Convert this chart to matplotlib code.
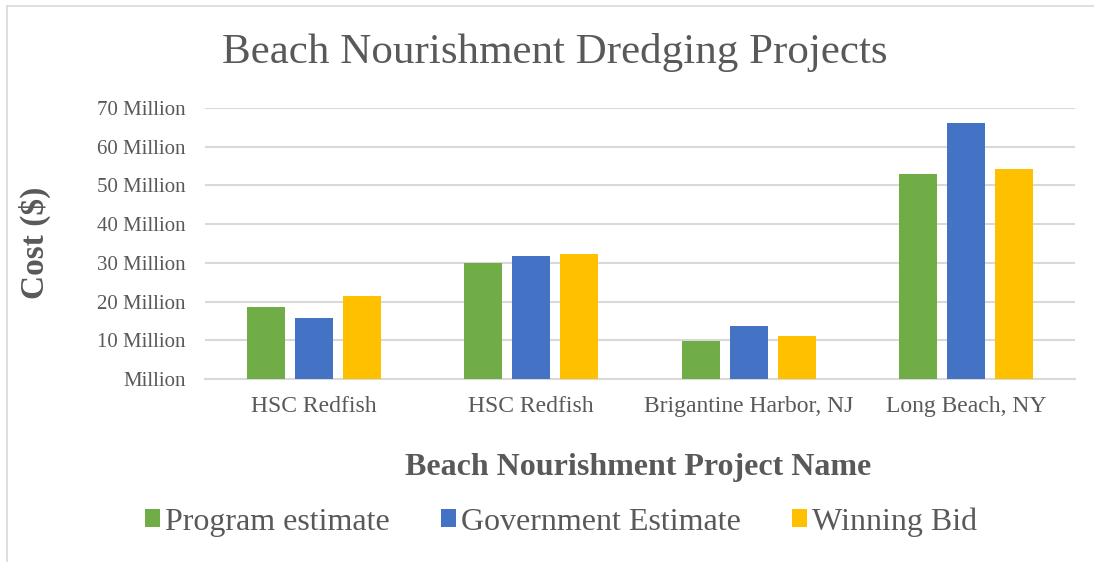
import numpy as np
from matplotlib import pyplot as plt
from matplotlib.lines import Line2D

projects = ["HSC Redfish", "HSC Redfish", "Brigantine Harbor, NJ", "Long Beach, NY"]
program_estimate = [18.6, 29.9, 9.9, 52.9]      # millions of $
government_estimate = [15.8, 31.7, 13.6, 66.1]
winning_bid = [21.4, 32.2, 11.0, 54.3]
series_names = ["Program estimate", "Government Estimate", "Winning Bid"]
colors = ["#70AD47", "#4472C4", "#FFC000"]
yticks = [0, 10, 20, 30, 40, 50, 60, 70]
ytick_labels = ["Million"] + ["%d Million" % v for v in yticks[1:]]

grey = "#595959"
serif = ["Liberation Serif", "DejaVu Serif"]

fig = plt.figure(figsize=(10.94, 5.62), dpi=100)
ax = fig.add_axes([205/1094, 1-379/562, 870/1094, 271/562])

x = np.arange(len(projects))
w = 0.175
off = 0.221
series = [program_estimate, government_estimate, winning_bid]
for i, vals in enumerate(series):
    ax.bar(x + (i-1)*off, vals, w, color=colors[i], label=series_names[i], zorder=3)

ax.set_xlim(-0.5, len(projects)-0.5)
ax.set_ylim(0, 70)
ax.set_yticks(yticks)
ax.set_yticklabels(ytick_labels, fontfamily=serif, fontsize=15, color=grey)
ax.set_xticks(x)
ax.set_xticklabels(projects, fontfamily=serif, fontsize=17, color=grey)
ax.tick_params(axis="x", length=0, pad=12)
ax.tick_params(axis="y", length=0, pad=14)
ax.grid(axis="y", color="#D9D9D9", linewidth=1.5, zorder=0)
for s in ["top", "right", "left"]:
    ax.spines[s].set_visible(False)
ax.spines["bottom"].set_color("#D9D9D9")
ax.spines["bottom"].set_linewidth(1.5)

fig.text(555/1094, 1-52/562, "Beach Nourishment Dredging Projects", ha="center", va="center",
         fontfamily=serif, fontsize=31, color=grey)
fig.text(638/1094, 1-467/562, "Beach Nourishment Project Name", ha="center", va="center",
         fontfamily=serif, fontsize=23, fontweight="bold", color=grey)
fig.text(35/1094, 1-243/562, "Cost ($)", ha="center", va="center", rotation=90,
         fontfamily=serif, fontsize=24, fontweight="bold", color=grey)

fig.legend(loc="center", bbox_to_anchor=(561/1094, 1-522/562), ncol=3, frameon=False,
           prop={"family": serif, "size": 23},
           handlelength=0.48, handleheight=0.48, handletextpad=0.15, columnspacing=1.6,
           labelcolor=grey)

# chart area border (only top and left visible in the crop)
fig.add_artist(Line2D([7/1094, 7/1094], [0, 1-6/562], transform=fig.transFigure,
                      color="#D9D9D9", linewidth=1.2))
fig.add_artist(Line2D([7/1094, 1], [1-6/562, 1-6/562], transform=fig.transFigure,
                      color="#D9D9D9", linewidth=1.2))

plt.savefig("out.png", dpi=100)
